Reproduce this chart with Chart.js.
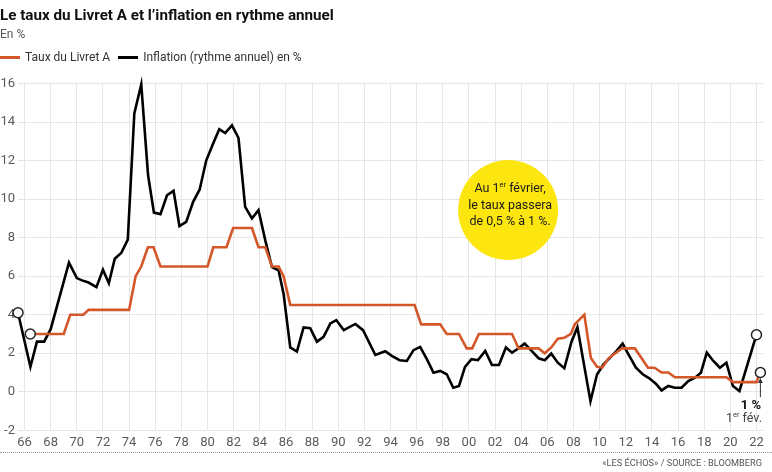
<!DOCTYPE html>
<html><head><meta charset="utf-8">
<script src="https://cdn.jsdelivr.net/npm/chart.js@4"></script>
<style>
html,body{margin:0;padding:0;background:#fff;}
#wrap{position:relative;width:772px;height:472px;overflow:hidden;font-family:Roboto,"Liberation Sans",sans-serif;}
#title{position:absolute;left:0;top:6px;font-size:15.2px;font-weight:700;color:#111;white-space:nowrap;}
#sub{position:absolute;left:0;top:27px;font-size:12px;color:#555;}
#legend{position:absolute;left:0;top:50px;font-size:12px;color:#333;display:flex;align-items:center;white-space:nowrap;}
.sw{display:inline-block;width:20px;height:3px;margin-right:5px;}
#rule{position:absolute;left:0;right:0;top:452px;border-top:1px dotted #999;}
#src{position:absolute;right:10px;top:457px;font-size:9.2px;color:#555;}
canvas{position:absolute;left:0;top:0;}
</style></head>
<body>
<div id="wrap">
<canvas id="c" width="772" height="472"></canvas>
<div id="title">Le taux du Livret A et l’inflation en rythme annuel</div>
<div id="sub">En %</div>
<div id="legend"><span class="sw" style="background:#d4572a"></span>Taux du Livret A<span class="sw" style="background:#000;margin-left:8px"></span>Inflation (rythme annuel) en %</div>
<div id="rule"></div>
<div id="src">«LES ÉCHOS» / SOURCE : BLOOMBERG</div>
</div>
<script>
const inflationYears = [1965.5,1966.45,1966.95,1967.5,1968.0,1969.4,1970.0,1970.4,1970.9,1971.5,1972.0,1972.45,1972.9,1973.4,1973.9,1974.4,1974.93,1975.45,1975.9,1976.4,1976.9,1977.4,1977.85,1978.37,1978.9,1979.4,1979.9,1980.44,1980.9,1981.35,1981.87,1982.37,1982.88,1983.4,1983.9,1984.42,1984.93,1985.44,1985.82,1986.33,1986.84,1987.35,1987.86,1988.37,1988.88,1989.4,1989.85,1990.42,1991.31,1991.9,1992.84,1993.6,1994.1,1994.7,1995.25,1995.76,1996.27,1996.78,1997.29,1997.8,1998.3,1998.8,1999.24,1999.7,2000.2,2000.69,2001.25,2001.76,2002.3,2002.83,2003.3,2003.8,2004.26,2004.8,2005.33,2005.8,2006.3,2006.8,2007.3,2007.85,2008.3,2009.3,2009.8,2010.3,2010.8,2011.3,2011.76,2012.27,2012.78,2013.3,2013.8,2014.3,2014.74,2015.25,2015.76,2016.27,2016.78,2017.3,2017.75,2018.2,2018.7,2019.2,2019.7,2020.2,2020.7,2022.0];
const inflationValues = [4.1,1.3,2.6,2.6,3.25,6.7,5.9,5.78,5.67,5.43,6.33,5.63,6.9,7.2,7.9,14.45,15.95,11.25,9.3,9.22,10.2,10.43,8.6,8.82,9.86,10.5,12.0,12.9,13.63,13.43,13.83,13.17,9.6,9.0,9.43,7.86,6.47,6.3,5.08,2.3,2.09,3.34,3.3,2.6,2.85,3.55,3.72,3.2,3.52,3.2,1.91,2.1,1.86,1.64,1.6,2.16,2.33,1.69,0.99,1.08,0.91,0.21,0.3,1.29,1.69,1.64,2.12,1.39,1.39,2.3,2.03,2.26,2.5,2.12,1.74,1.64,1.98,1.51,1.22,2.6,3.35,-0.49,0.9,1.43,1.77,2.12,2.5,1.86,1.25,0.91,0.7,0.42,0.07,0.3,0.21,0.21,0.56,0.73,0.99,2.03,1.6,1.25,1.51,0.3,0.04,2.96];
const livretYears = [1966.44,1969.0,1969.5,1970.5,1970.9,1974.0,1974.5,1974.93,1975.44,1975.87,1976.4,1980.0,1980.44,1981.45,1981.96,1983.4,1983.9,1984.42,1984.93,1985.44,1985.82,1986.33,1995.84,1996.35,1997.8,1998.3,1999.24,1999.83,2000.25,2000.76,2003.3,2003.8,2005.33,2005.8,2006.3,2006.8,2007.3,2007.8,2008.1,2008.83,2009.33,2009.8,2010.2,2010.7,2011.2,2011.7,2012.7,2013.2,2013.7,2014.2,2014.74,2015.25,2015.76,2019.7,2020.2,2022.0,2022.3];
const livretValues = [3,3,4,4,4.25,4.25,6,6.5,7.5,7.5,6.5,6.5,7.5,7.5,8.5,8.5,7.5,7.5,6.5,6.5,6,4.5,4.5,3.5,3.5,3,3,2.25,2.25,3,3,2.25,2.25,2,2.3,2.75,2.8,3,3.5,4,1.75,1.3,1.25,1.75,2,2.25,2.25,1.75,1.25,1.25,1,1,0.75,0.75,0.5,0.5,1];
const yearTicks = [1966,1968,1970,1972,1974,1976,1978,1980,1982,1984,1986,1988,1990,1992,1994,1996,1998,2000,2002,2004,2006,2008,2010,2012,2014,2016,2018,2020,2022];
const valueTicks = [-2,0,2,4,6,8,10,12,14,16];

function pts(xs, ys){ return xs.map((x,i)=>({x:x,y:ys[i]})); }
function endRadius(n){ return Array.from({length:n},(_, i)=> (i===0||i===n-1)?5:0); }

function drawRich(ctx, parts, x, y, align, size, weight){
  let total = 0;
  const ws = parts.map(p=>{ ctx.font = (weight||'400')+' '+(p.sup?size*0.6:size)+'px Roboto'; const w = ctx.measureText(p.t).width; total+=w; return w; });
  let sx = align==='center' ? x-total/2 : (align==='right' ? x-total : x);
  ctx.textAlign='left'; ctx.textBaseline='middle';
  parts.forEach((p,i)=>{ ctx.font = (weight||'400')+' '+(p.sup?size*0.6:size)+'px Roboto'; ctx.fillText(p.t, sx, p.sup? y-size*0.3 : y); sx+=ws[i]; });
}

const notes = {
  id:'notes',
  beforeDatasetsDraw(chart){
    const {ctx, scales:{x,y}} = chart;
    const cx = x.getPixelForValue(2003.0), cy = y.getPixelForValue(9.43);
    ctx.save();
    ctx.beginPath(); ctx.arc(cx, cy, 50, 0, Math.PI*2); ctx.fillStyle='#fde60f'; ctx.fill();
    ctx.fillStyle='#1a1a1a';
    drawRich(ctx,[{t:'Au 1'},{t:'er',sup:true},{t:' février,'}], cx+2, cy-21, 'center', 12.5);
    drawRich(ctx,[{t:'le taux passera'}], cx+2, cy-4, 'center', 12.5);
    drawRich(ctx,[{t:'de 0,5 % à 1 %.'}], cx+2, cy+12, 'center', 12.5);
    ctx.restore();
  },
  afterDatasetsDraw(chart){
    const {ctx, scales:{x,y}} = chart;
    const ax = x.getPixelForValue(2022.3);
    const y0 = y.getPixelForValue(-0.28), y1 = y.getPixelForValue(0.72);
    ctx.save();
    ctx.strokeStyle='#333'; ctx.fillStyle='#333'; ctx.lineWidth=1;
    ctx.beginPath(); ctx.moveTo(ax, y0); ctx.lineTo(ax, y1+3); ctx.stroke();
    ctx.beginPath(); ctx.moveTo(ax, y1); ctx.lineTo(ax-2.5, y1+5); ctx.lineTo(ax+2.5, y1+5); ctx.closePath(); ctx.fill();
    ctx.fillStyle='#111';
    drawRich(ctx,[{t:'1 %'}], 761, 406, 'right', 13, '700');
    ctx.fillStyle='#444';
    drawRich(ctx,[{t:'1'},{t:'er',sup:true},{t:' fév.'}], 762, 419, 'right', 12.5);
    ctx.restore();
  }
};

new Chart(document.getElementById('c'), {
  type:'line',
  data:{ datasets:[
    { label:'Taux du Livret A', data:pts(livretYears, livretValues), borderColor:'#d4572a', borderWidth:2.6,
      pointRadius:endRadius(livretYears.length), pointBackgroundColor:'#fff', pointBorderColor:'#222', pointBorderWidth:1.5, tension:0, clip:false },
    { label:'Inflation (rythme annuel) en %', data:pts(inflationYears, inflationValues), borderColor:'#000', borderWidth:2.6,
      pointRadius:endRadius(inflationYears.length), pointBackgroundColor:'#fff', pointBorderColor:'#222', pointBorderWidth:1.5, tension:0, clip:false }
  ]},
  options:{
    responsive:false, animation:false, events:[],
    layout:{padding:{left:0,right:9,top:83.5,bottom:16.7}},
    plugins:{legend:{display:false}, tooltip:{enabled:false}},
    scales:{
      x:{ type:'linear', min:1965.5, max:2022.5,
        afterBuildTicks:s=>{ s.ticks = yearTicks.map(v=>({value:v})); },
        afterFit:s=>{ s.height = 25; },
        ticks:{ callback:v=>String(v%100).padStart(2,'0'), font:{family:'Roboto',size:13}, color:'#5a5a5a', maxRotation:0, autoSkip:false, padding:5 },
        grid:{ color:'#e6e6e6', lineWidth:1, drawTicks:false }, border:{display:false} },
      y:{ min:-2, max:16,
        afterBuildTicks:s=>{ s.ticks = valueTicks.map(v=>({value:v})); },
        afterFit:s=>{ s.width = 18; },
        ticks:{ font:{family:'Roboto',size:13}, color:'#5a5a5a', padding:3 },
        grid:{ color:'#e6e6e6', lineWidth:1, drawTicks:false }, border:{display:false} }
    }
  },
  plugins:[notes]
});
</script>
</body></html>
